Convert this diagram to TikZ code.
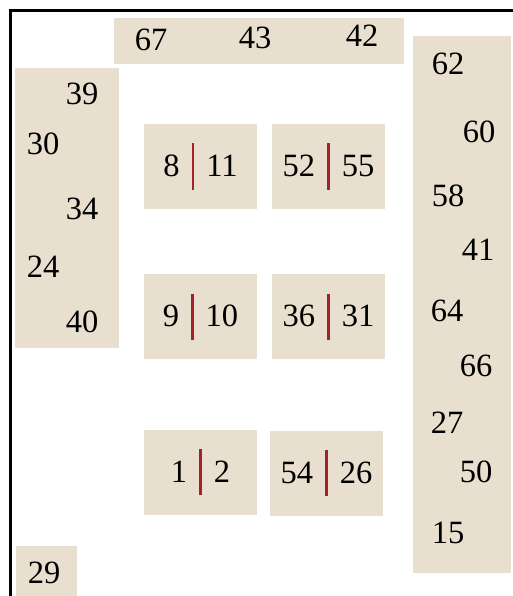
\documentclass[tikz,border=0pt]{standalone}
\usepackage{fontspec}
\setmainfont{Liberation Serif}
\usepackage{xcolor}
\usetikzlibrary{positioning}
\definecolor{sand}{HTML}{E8DFCF}
\definecolor{barred}{HTML}{A3222A}
\newcommand{\pairsep}{\hspace{12pt}\textcolor{barred}{\rule[-13pt]{2.6pt}{46pt}}\hspace{12pt}}

\begin{document}
\begin{tikzpicture}[x=1pt, y=-1pt,
    panel/.style={fill=sand, inner sep=0pt, anchor=north west},
    pairbox/.style={fill=sand, minimum width=113pt, minimum height=85pt, inner sep=0pt},
    num/.style={inner sep=0pt},
    every node/.style={font=\fontsize{32.5}{38}\selectfont}
]
\useasboundingbox (0,0) rectangle (513,596);
\clip (0,0) rectangle (513,596);
% frame
\draw[line width=3pt] (10,610) |- (530,11);
% panels
\node[panel, minimum width=290pt, minimum height=46pt] (toppanel) at (114,18) {};
\node[panel, minimum width=104pt, minimum height=280pt] (leftpanel) at (15,68) {};
\node[panel, minimum width=98pt, minimum height=537pt] (rightpanel) at (413,36) {};
\node[panel, minimum width=61pt, minimum height=60pt] (cornerpanel) at (16,546) {};
% loose numbers
\foreach \n/\x/\y in {67/151/40, 43/255/38, 42/362/36,
    39/82/94, 30/43/144, 34/82/209, 24/43/267, 40/82/322,
    62/448/64, 60/479/132, 58/448/196, 41/478/250, 64/447/311,
    66/476/366, 27/447/423, 50/476/472, 15/448/533, 29/44/573} {
    \node[num] (n\n) at (\x,\y) {\n};
}
% pairs
\foreach \nm/\x/\y/\a/\b in {pa/200.5/166.5/8/11, pb/328.5/166.5/52/55,
    pc/200.5/316.5/9/10, pd/328.5/316.5/36/31,
    pe/200.5/472/1/2, pf/326.5/473/54/26} {
    \node[pairbox] (\nm) at (\x,\y) {\a\pairsep\b};
}
\end{tikzpicture}
\end{document}
